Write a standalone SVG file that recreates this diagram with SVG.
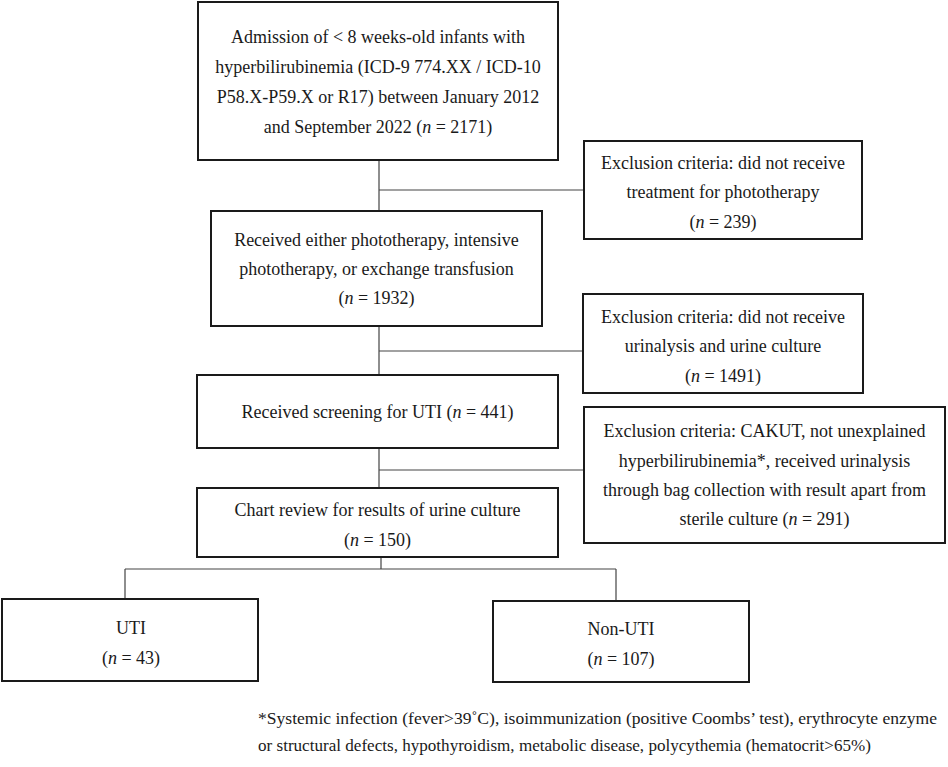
<svg xmlns="http://www.w3.org/2000/svg" width="948" height="767" viewBox="0 0 948 767">
<style>
.box{fill:#fff;stroke:#1a1a1a;stroke-width:2}
.t{font-family:"Liberation Serif","Times New Roman",serif;font-size:18px;fill:#1a1a1a;text-anchor:middle}
.f{font-family:"Liberation Serif","Times New Roman",serif;font-size:16px;fill:#1a1a1a}
.c{stroke:#444;stroke-width:1.2;fill:none}
</style>
<rect width="948" height="767" fill="#fff"/>
<g id="connectors">
<path class="c" d="M379 160V211M379 190H584M379 326V375M379 351H583M379 448V488M379 470H584M381 557V569M125 569H616M125 569V599M616 569V601"/>
</g>
<g id="n1"><rect class="box" x="198" y="2" width="360" height="158"/>
<text class="t" x="378" y="43">Admission of &lt; 8 weeks-old infants with</text>
<text class="t" x="378" y="73">hyperbilirubinemia (ICD-9 774.XX / ICD-10</text>
<text class="t" x="378" y="103">P58.X-P59.X or R17) between January 2012</text>
<text class="t" x="378" y="133">and September 2022 (<tspan font-style="italic">n</tspan> = 2171)</text></g>
<g id="e1"><rect class="box" x="584" y="141" width="278" height="98"/>
<text class="t" x="723" y="169">Exclusion criteria: did not receive</text>
<text class="t" x="723" y="198">treatment for phototherapy</text>
<text class="t" x="723" y="228">(<tspan font-style="italic">n</tspan> = 239)</text></g>
<g id="n2"><rect class="box" x="211" y="211" width="331" height="115"/>
<text class="t" x="376.5" y="246">Received either phototherapy, intensive</text>
<text class="t" x="376.5" y="275">phototherapy, or exchange transfusion</text>
<text class="t" x="376.5" y="304">(<tspan font-style="italic">n</tspan> = 1932)</text></g>
<g id="e2"><rect class="box" x="583" y="294" width="280" height="99"/>
<text class="t" x="723" y="323">Exclusion criteria: did not receive</text>
<text class="t" x="723" y="352">urinalysis and urine culture</text>
<text class="t" x="723" y="382">(<tspan font-style="italic">n</tspan> = 1491)</text></g>
<g id="n3"><rect class="box" x="197" y="375" width="361" height="73"/>
<text class="t" x="377.5" y="418">Received screening for UTI (<tspan font-style="italic">n</tspan> = 441)</text></g>
<g id="e3"><rect class="box" x="584" y="407" width="361" height="136"/>
<text class="t" x="764.5" y="437">Exclusion criteria: CAKUT, not unexplained</text>
<text class="t" x="764.5" y="467">hyperbilirubinemia*, received urinalysis</text>
<text class="t" x="764.5" y="496">through bag collection with result apart from</text>
<text class="t" x="764.5" y="525">sterile culture (<tspan font-style="italic">n</tspan> = 291)</text></g>
<g id="n4"><rect class="box" x="197" y="488" width="361" height="69"/>
<text class="t" x="377.5" y="516">Chart review for results of urine culture</text>
<text class="t" x="377.5" y="546">(<tspan font-style="italic">n</tspan> = 150)</text></g>
<g id="uti"><rect class="box" x="2" y="599" width="256" height="82"/>
<text class="t" x="131" y="634">UTI</text>
<text class="t" x="131" y="664">(<tspan font-style="italic">n</tspan> = 43)</text></g>
<g id="nonuti"><rect class="box" x="493" y="601" width="256" height="81"/>
<text class="t" x="621" y="635">Non-UTI</text>
<text class="t" x="621" y="665">(<tspan font-style="italic">n</tspan> = 107)</text></g>
<g id="footnote">
<text class="f" x="258" y="724" textLength="679" lengthAdjust="spacingAndGlyphs">*Systemic infection (fever&gt;39˚C), isoimmunization (positive Coombs’ test), erythrocyte enzyme</text>
<text class="f" x="258" y="751" textLength="613" lengthAdjust="spacingAndGlyphs">or structural defects, hypothyroidism, metabolic disease, polycythemia (hematocrit&gt;65%)</text>
</g>
</svg>
